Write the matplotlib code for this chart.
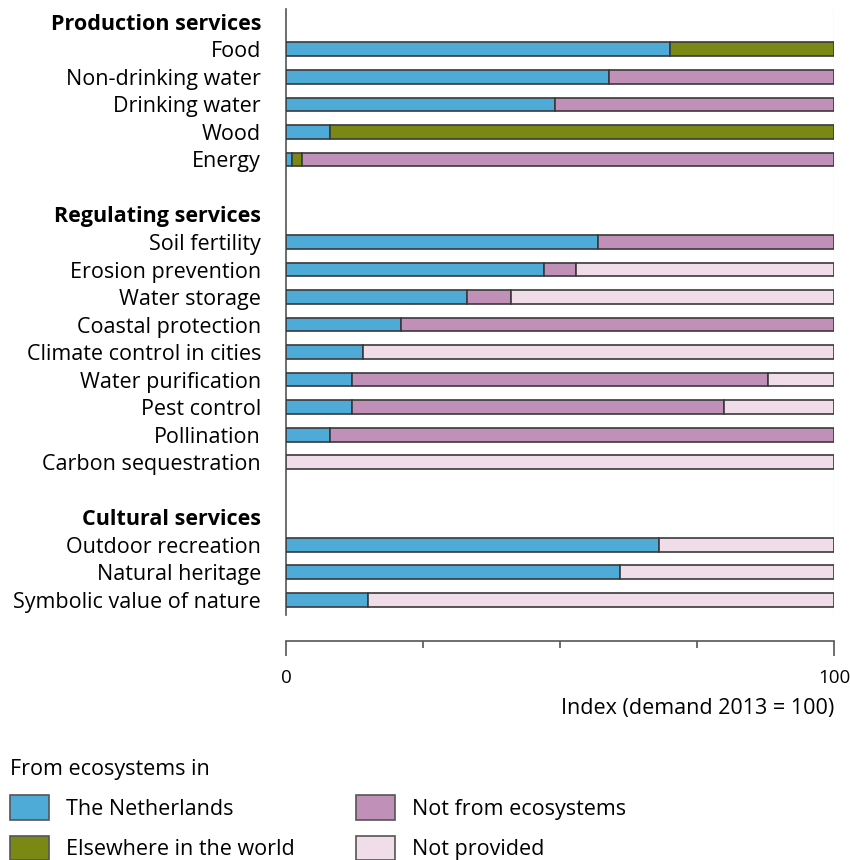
import numpy as np
import matplotlib
matplotlib.use("Agg")
import matplotlib.pyplot as plt
import matplotlib.transforms as mtransforms
from matplotlib.patches import Patch

plt.rcParams['font.family'] = ['Open Sans', 'DejaVu Sans']

# rows from top to bottom; headings and blank rows have no bar
labels = ["Production services", "Food", "Non-drinking water", "Drinking water", "Wood", "Energy",
          "",
          "Regulating services", "Soil fertility", "Erosion prevention", "Water storage",
          "Coastal protection", "Climate control in cities", "Water purification",
          "Pest control", "Pollination", "Carbon sequestration",
          "",
          "Cultural services", "Outdoor recreation", "Natural heritage", "Symbolic value of nature"]
headings = ["Production services", "Regulating services", "Cultural services"]

netherlands = [0, 70, 59, 49, 8, 1, 0, 0, 57, 47, 33, 21, 14, 12, 12, 8, 0, 0, 0, 68, 61, 15]
elsewhere   = [0, 30, 0, 0, 92, 2, 0, 0, 0, 0, 0, 0, 0, 0, 0, 0, 0, 0, 0, 0, 0, 0]
not_eco     = [0, 0, 41, 51, 0, 97, 0, 0, 43, 6, 8, 79, 0, 76, 68, 92, 0, 0, 0, 0, 0, 0]
not_prov    = [0, 0, 0, 0, 0, 0, 0, 0, 0, 47, 59, 0, 86, 12, 20, 0, 100, 0, 0, 32, 39, 85]

series = [("The Netherlands", netherlands, "#4eaad7"),
          ("Elsewhere in the world", elsewhere, "#798914"),
          ("Not from ecosystems", not_eco, "#c190b9"),
          ("Not provided", not_prov, "#f0dde9")]

FS = 15.5

fig = plt.figure(figsize=(8.5, 8.6), dpi=100)
ax = fig.add_axes([0.3365, 0.285, 0.6447, 0.704])

y = np.arange(len(labels))
is_bar = np.array([lab not in headings and lab != "" for lab in labels])
left = np.zeros(len(labels))
for name, vals, col in series:
    vals = np.array(vals, dtype=float)
    m = is_bar & (vals > 0)
    ax.barh(y[m], vals[m], left=left[m], height=0.5, color=col,
            edgecolor="#3a3a3a", linewidth=1.2, zorder=3)
    left += vals

ax.axvline(100, color="#e6e6e6", lw=1, zorder=0)
ax.set_ylim(len(labels) - 0.45, -0.45)
ax.set_xlim(0, 100)

ax.set_yticks(y)
ax.set_yticklabels(labels)
for t in ax.get_yticklabels():
    if t.get_text() in headings:
        t.set_fontweight("bold")
ax.tick_params(axis="y", length=0, pad=18, labelsize=FS)

ax.set_xticks([0, 100])
ax.set_xticklabels(["0", "100"])
ax.set_xticks([25, 50, 75], minor=True)
ax.tick_params(axis="x", which="major", length=11, width=1.2, color="#555555", pad=9, labelsize=13.5)
ax.tick_params(axis="x", which="minor", length=5, width=1.2, color="#555555")
# nudge "100" a little left so it stays inside the figure
lab100 = ax.get_xticklabels()[1]
lab100.set_transform(lab100.get_transform() +
                     mtransforms.ScaledTranslation(-4 / 72, 0, fig.dpi_scale_trans))
ax.set_xlabel("Index (demand 2013 = 100)", fontsize=FS, loc="right", labelpad=8)

for s in ["top", "right"]:
    ax.spines[s].set_visible(False)
ax.spines["bottom"].set_position(("outward", 19))
ax.spines["bottom"].set_color("#555555")
ax.spines["bottom"].set_linewidth(1.2)
ax.spines["left"].set_color("#555555")
ax.spines["left"].set_linewidth(1.2)

handles = [Patch(facecolor=c, edgecolor="#555555", linewidth=1.2, label=n) for n, _, c in series]
leg = fig.legend(handles=handles, loc="upper left", bbox_to_anchor=(0.012, 0.1175), ncol=2,
                 frameon=False, fontsize=FS, title="From ecosystems in", title_fontsize=FS,
                 alignment="left", handlelength=1.78, handleheight=1.38, handletextpad=0.82,
                 labelspacing=0.72, columnspacing=2.85, borderpad=0, borderaxespad=0)

fig.savefig("out.png", dpi=100)
